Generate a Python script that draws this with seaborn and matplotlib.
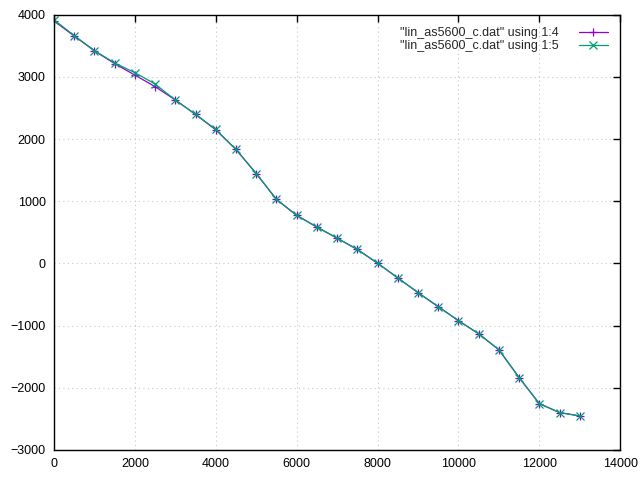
import pandas as pd
import seaborn as sns
import matplotlib.pyplot as plt

x_vals = [0, 500, 1000, 1500, 2000, 2500, 3000, 3500, 4000, 4500, 5000, 5500, 6000,
          6500, 7000, 7500, 8000, 8500, 9000, 9500, 10000, 10500, 11000, 11500,
          12000, 12500, 13000]
col4 = [3900, 3660, 3420, 3215, 3030, 2845, 2630, 2398, 2150, 1834, 1447, 1032, 774,
        586, 408, 226, 5, -231, -468, -694, -919, -1130, -1387, -1834,
        -2253, -2398, -2452]
col5 = [3920, 3665, 3425, 3225, 3069, 2887, 2630, 2398, 2156, 1834, 1447, 1032, 774,
        586, 408, 226, 5, -231, -468, -694, -919, -1130, -1387, -1834,
        -2253, -2398, -2452]
labels = ['"lin_as5600_c.dat" using 1:4', '"lin_as5600_c.dat" using 1:5']
colors = ["#9400d3", "#009e73"]
markers = ["+", "x"]

sns.set_style("white")
plt.rcParams['font.family'] = ['Liberation Sans', 'DejaVu Sans']

df = pd.DataFrame({"x": x_vals, "c4": col4, "c5": col5})

fig = plt.figure(figsize=(6.4, 4.78), dpi=100)
ax = fig.add_axes([0.0844, 0.0586, 0.8846, 0.9104])
for col, lab, c, m in zip(["c4", "c5"], labels, colors, markers):
    sns.lineplot(data=df, x="x", y=col, color=c, marker=m, markersize=5.5,
                 markeredgewidth=0.9, markeredgecolor=c, linewidth=0.9,
                 label=lab, ax=ax)

ax.set_xlim(0, 14000)
ax.set_ylim(-3000, 4000)
ax.set_xticks(range(0, 14001, 2000))
ax.set_yticks(range(-3000, 4001, 1000))
ax.grid(True, color="#c8c8c8", linestyle=(0, (1, 3)), linewidth=0.8)
ax.tick_params(direction="in", top=True, right=True, length=5, width=1,
               labelsize=9, colors="black", pad=6)
for sp in ax.spines.values():
    sp.set_color("black")
    sp.set_linewidth(1)
ax.set_xlabel("")
ax.set_ylabel("")
leg = ax.legend(loc="upper right", frameon=False, markerfirst=False, fontsize=9,
                handlelength=2.3, handletextpad=1.6, borderaxespad=0.6,
                labelspacing=0.05)

fig.savefig("out.png", dpi=100)
